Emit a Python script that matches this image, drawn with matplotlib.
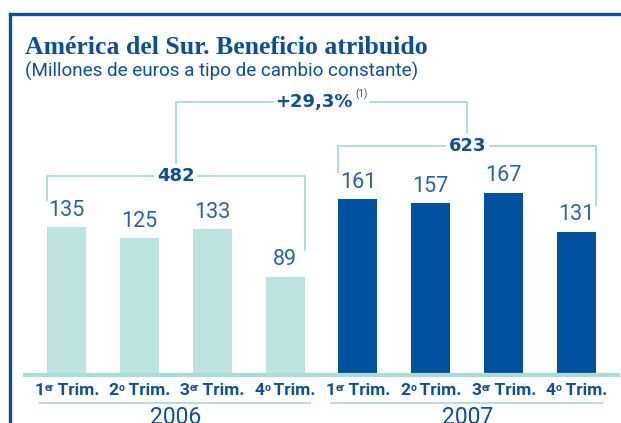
import matplotlib.pyplot as plt
from matplotlib.lines import Line2D
from matplotlib.transforms import offset_copy

# Beneficio atribuido por trimestre (millones de euros)
years = ["2006", "2007"]
quarters = ["1", "2", "3", "4"]
quarter_sup = ["er", "o", "er", "o"]
values_2006 = [135, 125, 133, 89]
values_2007 = [161, 157, 167, 131]
totals = [482, 623]
growth_label = "+29,3%"
growth_note = "(1)"

BLUE = "#0b4f9c"
LABEL_BLUE = "#2563ad"
DARK_BAR = "#00519e"
LIGHT_BAR = "#bde3df"
LINE = "#a6dbd4"

SANS = ["Roboto", "DejaVu Sans"]

fig = plt.figure(figsize=(6.21, 4.23), dpi=100)
ax = fig.add_axes([0, 0, 1, 1])
ax.set_xlim(-0.913, 7.611)
ax.set_ylim(-46.3, 345.4)
ax.axis("off")
renderer = fig.canvas.get_renderer()

# frame: top rule and left rule
fig.add_artist(Line2D([9.5 / 621, 1], [1 - 14.5 / 423] * 2, color=BLUE, lw=2.4))
fig.add_artist(Line2D([9.5 / 621] * 2, [0, 1 - 14.5 / 423], color=BLUE, lw=2.4))

fig.text(25 / 621, 1 - 54 / 423, "América del Sur. Beneficio atribuido",
         family="Liberation Serif", weight="bold", fontsize=18.5, color=BLUE,
         va="baseline")
fig.text(25 / 621, 1 - 77 / 423, "(Millones de euros a tipo de cambio constante)",
         family=SANS, fontsize=13.6, color=BLUE, va="baseline")


def quarter_label(x, y, num, sup):
    """Draw '1er Trim.' style label centred on x with a raised suffix."""
    style = dict(family=SANS, weight="bold", color=BLUE, va="baseline")
    parts = [ax.text(x, y, num, fontsize=12.5, **style),
             ax.text(x, y, sup, fontsize=7.5, **style),
             ax.text(x, y, "\u2009Trim.", fontsize=12.5, **style)]
    widths = [p.get_window_extent(renderer).width for p in parts]
    start = -sum(widths) / 2
    rise = [0, 4.5, 0]
    for p, w, r in zip(parts, widths, rise):
        p.set_transform(offset_copy(ax.transData, fig, x=start, y=r, units="dots"))
        start += w


width = 0.535
groups = [values_2006, values_2007]
colors = [LIGHT_BAR, DARK_BAR]
bracket_level = [182, 210]
group_gap = 0.31
leg_pad = 25

centers = []
for g, vals in enumerate(groups):
    xs = [g * 4 + i for i in range(len(vals))]
    ax.bar(xs, vals, width=width, color=colors[g], zorder=2)
    for x, v in zip(xs, vals):
        ax.text(x, v + 6, str(v), ha="center", va="bottom", family=SANS,
                fontsize=15.5, color=LABEL_BLUE)
    for x, q, s in zip(xs, quarters, quarter_sup):
        quarter_label(x, -20.5, q, s)

    # bracket over the group with the yearly total
    left = xs[0] - width / 2
    right = xs[-1] + width / 2
    mid = (left + right) / 2
    lvl = bracket_level[g]
    ax.plot([left, left, mid - group_gap], [vals[0] + leg_pad, lvl, lvl],
            color=LINE, lw=1.3, clip_on=False)
    ax.plot([mid + group_gap, right, right], [lvl, lvl, vals[-1] + leg_pad],
            color=LINE, lw=1.3, clip_on=False)
    ax.text(mid, lvl, str(totals[g]), ha="center", va="center",
            family="DejaVu Sans", weight="bold", fontsize=13, color=BLUE)
    centers.append(mid)

    # underline and year
    ax.plot([left - 0.1, right + 0.08], [-27.5, -27.5], color="#b5e0da",
            lw=1.5, clip_on=False)
    ax.text(mid, -31.0, years[g], ha="center", va="top", family=SANS,
            fontsize=16.5, color=BLUE)

# baseline
ax.plot([-0.57, 7.57], [-1.5, -1.5], color="#a9dcd6", lw=3, zorder=3)

# growth bracket joining both totals
top = 251
mid = (centers[0] + centers[1]) / 2
ax.plot([centers[0], centers[0], mid - 0.66], [bracket_level[0] + 12, top, top],
        color=LINE, lw=1.3)
ax.plot([mid + 0.66, centers[1], centers[1]], [top, top, bracket_level[1] + 12],
        color=LINE, lw=1.3)
ax.text(mid + 0.43, top, growth_label, ha="right", va="center",
        family="DejaVu Sans", weight="bold", fontsize=13, color=BLUE)
ax.text(mid + 0.47, top + 7, growth_note, ha="left", va="center",
        family=SANS, fontsize=7, color=BLUE)

fig.savefig("out.png", dpi=100)
